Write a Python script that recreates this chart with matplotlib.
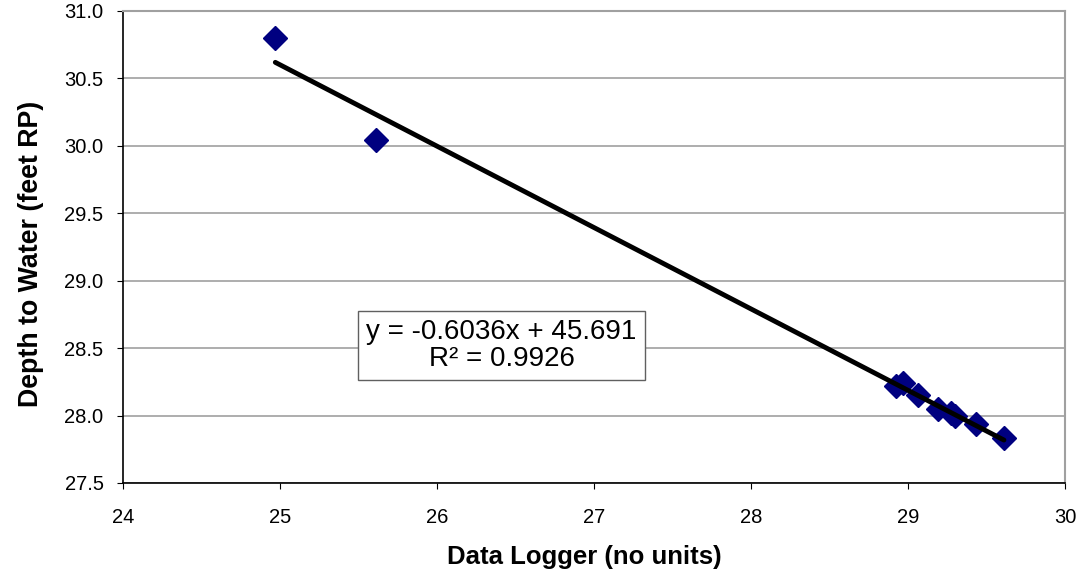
import numpy as np
import matplotlib
matplotlib.use("Agg")
import matplotlib.pyplot as plt

plt.rcParams['font.family'] = ['Liberation Sans', 'DejaVu Sans']

# readings
logger = [24.97, 25.61, 28.92, 28.97, 29.06, 29.19, 29.27, 29.30, 29.43, 29.61]
depth = [30.80, 30.04, 28.22, 28.24, 28.15, 28.05, 28.02, 28.00, 27.94, 27.83]

slope = -0.6036
intercept = 45.691
eq_text = "y = -0.6036x + 45.691\nR² = 0.9926"

fig = plt.figure(figsize=(10.78, 5.81), dpi=100)
ax = fig.add_axes([0.1141, 0.1687, 0.874, 0.8124])

ax.yaxis.grid(True, color='#a0a0a0', linewidth=1.2)
ax.set_axisbelow(True)

ax.plot(logger, depth, linestyle='none', marker='D', markersize=12.5,
        color='#000080', zorder=2)

xl = np.array([min(logger), max(logger)])
ax.plot(xl, slope * xl + intercept, color='black', linewidth=3.5,
        solid_capstyle='round', zorder=3)

ax.text(26.41, 28.52, eq_text, fontsize=20, ha='center', va='center',
        linespacing=1.05,
        bbox=dict(boxstyle='square,pad=0.3', facecolor='white',
                  edgecolor='#606060', linewidth=1), zorder=4)

ax.set_xlim(24, 30)
ax.set_ylim(27.5, 31.0)
ax.set_xticks(np.arange(24, 31, 1))
ax.set_yticks(np.arange(27.5, 31.01, 0.5))
ax.yaxis.set_major_formatter(matplotlib.ticker.FormatStrFormatter('%.1f'))

ax.tick_params(direction='out', length=4, labelsize=14.5, pad=10)
ax.tick_params(axis='x', pad=14)

for s in ['top', 'right']:
    ax.spines[s].set_color('#a0a0a0')
    ax.spines[s].set_linewidth(1.5)
for s in ['left', 'bottom']:
    ax.spines[s].set_color('black')
    ax.spines[s].set_linewidth(1.2)

ax.set_xlabel('Data Logger (no units)', fontsize=18.5, fontweight='bold')
ax.set_ylabel('Depth to Water (feet RP)', fontsize=19.3, fontweight='bold')
ax.xaxis.label.set_va('center')
ax.yaxis.label.set_va('center')
ax.xaxis.set_label_coords(0.49, -0.157)
ax.yaxis.set_label_coords(-0.098, 0.485)

fig.savefig('out.png', dpi=100)
